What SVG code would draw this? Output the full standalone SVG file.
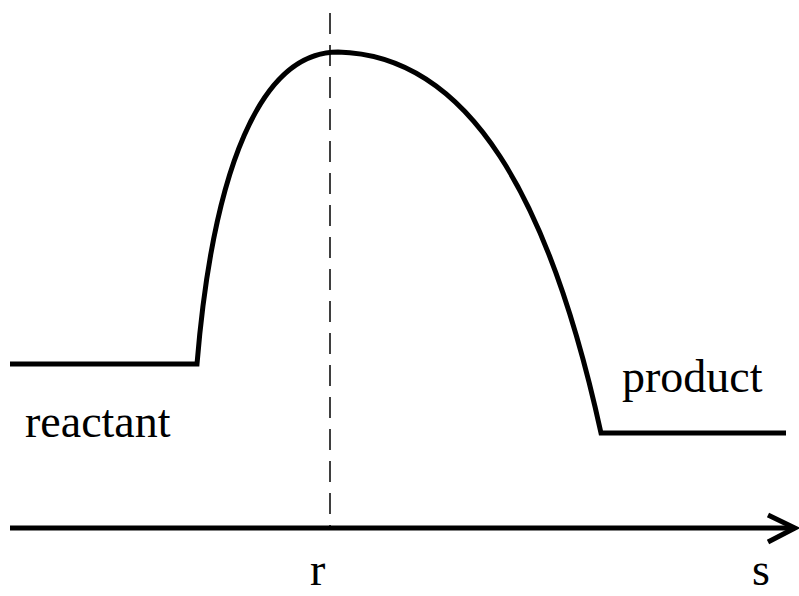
<svg xmlns="http://www.w3.org/2000/svg" width="799" height="596" viewBox="0 0 799 596">
<style>
.t{font-family:"Liberation Serif","Times New Roman",serif;font-size:46px;fill:#000}
.s{fill:none;stroke:#000;stroke-width:5}
</style>
<rect width="799" height="596" fill="#fff"/>
<g id="connectors">
<line x1="330" y1="13" x2="330" y2="530" stroke="#000" stroke-width="1.5" stroke-dasharray="21,11"/>
<line class="s" x1="10" y1="528" x2="794" y2="528"/>
<polyline class="s" points="768,515 795,528 768,542"/>
<path class="s" d="M10,364 H197 C213,170 260,52 338,52 C470,55 550,200 601,433 H786"/>
</g>
<g id="reactant"><text class="t" x="25" y="437">reactant</text></g>
<g id="product"><text class="t" x="622" y="392">product</text></g>
<g id="r"><text class="t" x="310" y="585">r</text></g>
<g id="s"><text class="t" x="752" y="585">s</text></g>
</svg>
